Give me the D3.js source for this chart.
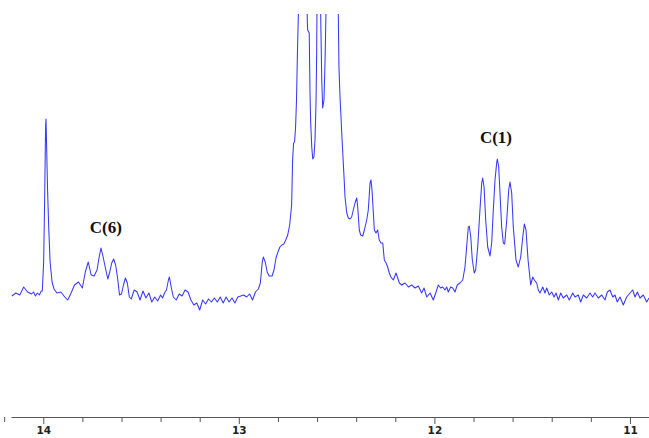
<!DOCTYPE html>
<html>
<head>
<meta charset="utf-8">
<script src="https://cdn.jsdelivr.net/npm/d3@7"></script>
<style>
    body { margin: 0; background: #fff; }
    svg { display: block; }
</style>
</head>
<body>
<div id="chart"></div>
<script>
// chemical shift (ppm) and intensity (arbitrary units)
const ppm = [
    14.16, 14.14, 14.12, 14.10, 14.08, 14.06, 14.05, 14.04, 14.03, 14.02, 14.01, 14.005,
    13.998, 13.993, 13.988, 13.986, 13.983, 13.978, 13.972, 13.965, 13.955, 13.945, 13.93, 13.91,
    13.89, 13.875, 13.86, 13.84, 13.82, 13.80, 13.785, 13.77, 13.755, 13.74, 13.725, 13.715,
    13.705, 13.695, 13.68, 13.67, 13.66, 13.65, 13.64, 13.63, 13.62, 13.61, 13.60, 13.59,
    13.58, 13.57, 13.56, 13.55, 13.535, 13.52, 13.505, 13.49, 13.475, 13.46, 13.445, 13.43,
    13.415, 13.40, 13.39, 13.38, 13.37, 13.36, 13.355, 13.345, 13.335, 13.32, 13.305, 13.29,
    13.275, 13.26, 13.245, 13.23, 13.215, 13.20, 13.185, 13.17, 13.155, 13.14, 13.125, 13.11,
    13.095, 13.08, 13.065, 13.05, 13.035, 13.02, 13.005, 12.99, 12.975, 12.96, 12.945, 12.93,
    12.915, 12.90, 12.89, 12.88, 12.875, 12.865, 12.855, 12.845, 12.83, 12.82, 12.81, 12.80,
    12.79, 12.78, 12.77, 12.76, 12.75, 12.74, 12.73, 12.725, 12.72, 12.715, 12.71, 12.705,
    12.70, 12.695, 12.672, 12.650, 12.648, 12.640, 12.636, 12.6325, 12.627, 12.622, 12.616, 12.6105,
    12.605, 12.602, 12.590, 12.581, 12.576, 12.571, 12.5645, 12.559, 12.524, 12.491, 12.488, 12.4826,
    12.4775, 12.472, 12.462, 12.457, 12.448, 12.440, 12.4315, 12.423, 12.4146, 12.406, 12.397, 12.392,
    12.384, 12.377, 12.3666, 12.358, 12.346, 12.338, 12.329, 12.324, 12.319, 12.312, 12.307, 12.2986,
    12.290, 12.282, 12.273, 12.264, 12.256, 12.247, 12.239, 12.2306, 12.222, 12.210, 12.196, 12.1876,
    12.179, 12.167, 12.150, 12.133, 12.116, 12.099, 12.082, 12.065, 12.053, 12.039, 12.022, 12.0056,
    11.988, 11.980, 11.968, 11.9575, 11.946, 11.937, 11.929, 11.9166, 11.906, 11.8946, 11.883, 11.869,
    11.855, 11.8435, 11.835, 11.8266, 11.8215, 11.814, 11.806, 11.796, 11.789, 11.7785, 11.767, 11.758,
    11.753, 11.746, 11.7376, 11.7274, 11.7156, 11.707, 11.6987, 11.690, 11.681, 11.678, 11.671, 11.6645,
    11.656, 11.6476, 11.6405, 11.630, 11.620, 11.6134, 11.6047, 11.5965, 11.5827, 11.571, 11.5586, 11.548,
    11.540, 11.5315, 11.521, 11.5075, 11.497, 11.489, 11.477, 11.4687, 11.460, 11.446, 11.4344, 11.4257,
    11.4124, 11.400, 11.388, 11.378, 11.366, 11.354, 11.341, 11.3234, 11.310, 11.2927, 11.281, 11.264,
    11.2518, 11.2385, 11.221, 11.204, 11.1905, 11.1787, 11.1618, 11.1444, 11.1276, 11.1158, 11.102, 11.088,
    11.0764, 11.0647, 11.051, 11.034, 11.0166, 10.9997, 10.986, 10.974, 10.962, 10.9486, 10.9317, 10.9143,
    10.9026
];

const intensity = [
    4, 7, 5, 13, 8, 6, 8, 4, 7, 5, 9, 9,
    38, 100, 175, 181, 155, 110, 72, 38, 18, 11, 7, 8,
    3, 0, 6, 15, 18, 12, 28, 38, 25, 24, 30, 42,
    52, 44, 30, 21, 28, 37, 41, 35, 22, 5, 6, 15,
    22, 17, 3, 1, 10, 8, 0, 9, 2, 7, -2, 3,
    -1, 5, 2, 7, 10, 20, 23, 12, 3, 0, 6, 4,
    10, 8, 0, -5, -3, -10, 0, -4, 1, -2, 2, -2,
    3, -3, 3, -2, 2, -3, 3, 4, 5, 3, 6, 0,
    8, 11, 17, 38, 43, 38, 28, 24, 24, 30, 42, 48,
    53, 55, 56, 60, 65, 75, 95, 140, 157, 158, 172, 200,
    250, 290, 600, 280, 270, 267, 207, 177, 153, 141, 143, 160,
    200, 247, 560, 280, 220, 192, 200, 240, 600, 280, 233, 203,
    183, 160, 123, 103, 87, 82, 81, 83, 90, 97, 102, 93,
    70, 65, 64, 70, 80, 90, 117, 120, 110, 87, 70, 67,
    70, 60, 57, 57, 40, 37, 33, 27, 23, 20, 27, 22,
    17, 15, 17, 13, 15, 12, 14, 7, 12, 3, 7, 0,
    10, 15, 12, 13, 10, 13, 8, 13, 12, 8, 15, 17,
    20, 33, 53, 73, 74, 63, 40, 27, 30, 53, 90, 117,
    122, 113, 80, 53, 44, 57, 90, 120, 138, 141, 133, 107,
    73, 57, 56, 80, 110, 118, 107, 73, 40, 33, 43, 63,
    76, 70, 40, 15, 23, 20, 17, 10, 7, 13, 7, 12,
    5, 8, 3, 7, 0, 7, 2, 5, 0, 7, 3, 5,
    -2, 5, 2, 7, 3, 7, 2, 5, 0, 8, 10, 3,
    5, -2, 3, -5, 3, 7, 10, 3, 8, 2, 5, -2,
    2
];

const majorTicks = [14, 13, 12, 11];
const minorTicks = [14.2, 13.8, 13.6, 13.4, 13.2, 12.8, 12.6, 12.4, 12.2, 11.8, 11.6, 11.4, 11.2];

const peakLabels = ['C(6)', 'C(1)'];
const peakLabelPpm = [13.68, 11.685];
const peakLabelLevel = [67, 157];

const width = 649,
    height = 438,
    plotTop = 14,
    axisY = 417;

const xScale = d3.scaleLinear()
    .domain([14.165, 10.9])
    .range([11, 649.5]);

const yScale = d3.scaleLinear()
    .domain([-117, 286])
    .range([axisY, plotTop]);

const svg = d3.select('#chart').append('svg')
    .attr('width', width)
    .attr('height', height);

svg.append('defs').append('clipPath')
    .attr('id', 'clip')
    .append('rect')
    .attr('x', 0)
    .attr('y', plotTop)
    .attr('width', width)
    .attr('height', axisY - plotTop);

const points = ppm.map((p, i) => [p, intensity[i]]);

const line = d3.line()
    .x(d => xScale(d[0]))
    .y(d => yScale(d[1]));

svg.append('g')
    .attr('clip-path', 'url(#clip)')
    .append('path')
    .datum(points)
    .attr('d', line)
    .attr('fill', 'none')
    .attr('stroke', '#3838ff')
    .attr('stroke-width', 1.05)
    .attr('stroke-linejoin', 'round');

// minor ticks (no labels)
const minorAxis = d3.axisBottom(xScale)
    .tickValues(minorTicks)
    .tickSize(5)
    .tickSizeOuter(0)
    .tickFormat('');

const gMinor = svg.append('g')
    .attr('transform', `translate(0,${axisY})`)
    .call(minorAxis);
gMinor.select('.domain').remove();

const majorAxis = d3.axisBottom(xScale)
    .tickValues(majorTicks)
    .tickSize(7)
    .tickSizeOuter(0)
    .tickPadding(3)
    .tickFormat(d3.format('d'));

const gMajor = svg.append('g')
    .attr('transform', `translate(0,${axisY})`)
    .call(majorAxis);

svg.selectAll('.domain, .tick line')
    .attr('stroke', '#555')
    .attr('stroke-width', 1);

gMajor.selectAll('.tick text')
    .attr('fill', '#222')
    .style('font-family', '"DejaVu Sans", sans-serif')
    .style('font-weight', 'bold')
    .style('font-size', '10.5px');

svg.selectAll('.peak-label')
    .data(peakLabels)
    .enter()
    .append('text')
    .attr('class', 'peak-label')
    .attr('x', (d, i) => xScale(peakLabelPpm[i]))
    .attr('y', (d, i) => yScale(peakLabelLevel[i]))
    .attr('text-anchor', 'middle')
    .style('font-family', '"Liberation Serif", "Times New Roman", serif')
    .style('font-weight', 'bold')
    .style('font-size', '17px')
    .attr('fill', '#111')
    .text(d => d);
</script>
</body>
</html>
